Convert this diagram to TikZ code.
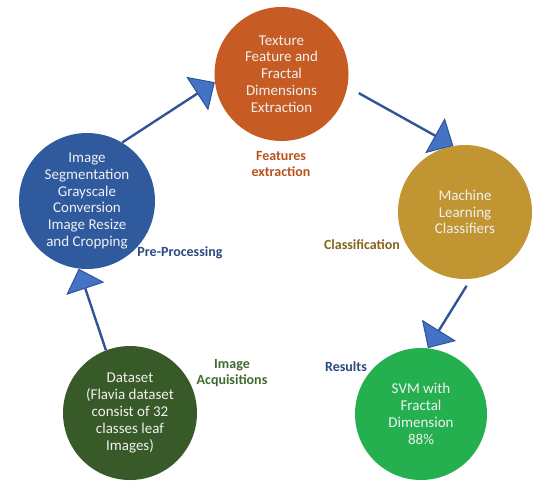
\documentclass[tikz,border=0pt]{standalone}
\usepackage{fontspec}
\setmainfont{Carlito}
\usetikzlibrary{arrows.meta}
\definecolor{cOrange}{HTML}{C65B23}
\definecolor{cBlue}{HTML}{2F5A9E}
\definecolor{cGold}{HTML}{C19632}
\definecolor{cDark}{HTML}{385A28}
\definecolor{cGreen}{HTML}{25B050}
\definecolor{lOrange}{HTML}{B8521C}
\definecolor{lBlue}{HTML}{2B4A80}
\definecolor{lGold}{HTML}{83661A}
\definecolor{lDark}{HTML}{3D6B2E}
\definecolor{shaft}{HTML}{2F5597}
\definecolor{headfill}{HTML}{4472C4}
\begin{document}
\begin{tikzpicture}[x=1pt,y=-1pt,
  stage/.style={circle, minimum size=134pt, inner sep=0pt, align=center,
    text=white!94!black, font=\fontsize{15}{16.8}\selectfont},
  caption/.style={align=center, font=\bfseries\fontsize{14}{15.5}\selectfont},
  flow/.style={draw=shaft, line width=2.4pt,
    -{Triangle[length=21pt,width=40pt,fill=headfill,line width=1pt]}}]
\useasboundingbox (0,0) rectangle (534,483);

% process stages
\node[stage, fill=cOrange] (extract) at (281.5,74)
  {Texture\\Feature and\\Fractal\\Dimensions\\Extraction};
\node[stage, fill=cBlue, minimum size=136pt] (prep) at (87,201)
  {Image\\Segmentation\\Grayscale\\Conversion\\Image Resize\\and Cropping};
\node[stage, fill=cGold] (classify) at (465,212)
  {Machine\\Learning\\Classifiers};
\node[stage, fill=cDark] (data) at (130,413)
  {Dataset\\(Flavia dataset\\consist of 32\\classes leaf\\Images)};
\node[stage, fill=cGreen, minimum size=132pt] (result) at (421,414)
  {SVM with\\Fractal\\Dimension\\88\%};

% stage captions
\node[caption, text=lOrange] (capExtract) at (281,164) {Features\\extraction};
\node[caption, text=lBlue] (capPrep) at (180,253) {Pre-Processing};
\node[caption, text=lGold] (capClass) at (362,245) {Classification};
\node[caption, text=lDark] (capData) at (232,373) {Image\\Acquisitions};
\node[caption, text=lBlue] (capResult) at (346,367) {Results};

% flow between stages
\draw[flow] (prep.59) -- (extract.187);
\draw[flow, shorten <=13pt] (extract.349) -- (classify.100);
\draw[flow, shorten <=8pt] (classify.275) -- (result.84);
\draw[flow] (data.111) -- (prep.263);
\end{tikzpicture}
\end{document}
